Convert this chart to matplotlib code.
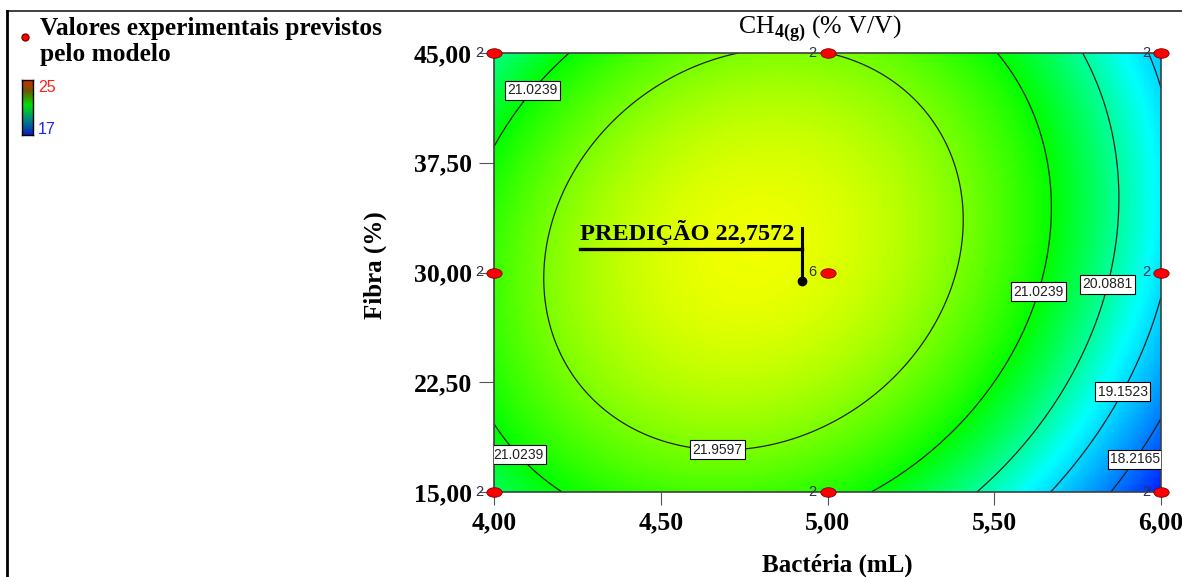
import numpy as np
import matplotlib
matplotlib.use("Agg")
import matplotlib.pyplot as plt
from matplotlib.colors import LinearSegmentedColormap
from matplotlib.path import Path
from matplotlib.transforms import Affine2D
from matplotlib.lines import Line2D

plt.rcParams['mathtext.fontset'] = 'custom'
plt.rcParams['mathtext.rm'] = 'Liberation Serif'
plt.rcParams['mathtext.bf'] = 'Liberation Serif:bold'

# quadratic model in coded units: A=(Bacteria-5)/1, B=(Fibra-30)/15
# terms: intercept, A, B, A^2, B^2, AB
model_coef = [22.7387, -1.1049, 0.3442, -2.3759, -1.1221, 0.4741]

bact_ticks = [4.00, 4.50, 5.00, 5.50, 6.00]
fibra_ticks = [15.00, 22.50, 30.00, 37.50, 45.00]
design_bact = [4, 4, 4, 5, 5, 6, 6, 6, 5]
design_fibra = [15, 30, 45, 15, 45, 15, 30, 45, 30]
design_reps = [2, 2, 2, 2, 2, 2, 2, 2, 6]
levels = [18.2165, 19.1523, 20.0881, 21.0239, 21.9597]
pred_bact, pred_fibra, pred_value = 4.925, 29.45, 22.7572
color_min, color_max = 17, 25

fig = plt.figure(figsize=(11.82, 5.77), dpi=100)
ax = fig.add_axes([494/1182, 1-492/577, 667/1182, 439/577])

xs = np.linspace(4, 6, 241)
ys = np.linspace(15, 45, 241)
XX, YY = np.meshgrid(xs, ys)
AA = XX - 5
BB = (YY - 30) / 15
c = model_coef
ZZ = c[0] + c[1]*AA + c[2]*BB + c[3]*AA**2 + c[4]*BB**2 + c[5]*AA*BB

cmap = LinearSegmentedColormap.from_list('de', [(0, '#0000ff'), (0.31, '#00ffff'), (0.5, '#00ff00'), (0.75, '#ffff00'), (1, '#ff0000')])
ax.imshow(ZZ, extent=[4, 6, 15, 45], origin='lower', aspect='auto', cmap=cmap,
          vmin=color_min, vmax=color_max, interpolation='nearest')
cs = ax.contour(XX, YY, ZZ, levels=levels, colors='#202020', linewidths=0.9)
manual = [(4.111, 42.56), (4.084, 17.80), (4.671, 18.49), (5.626, 28.74), (5.86, 29.08), (5.875, 21.97), (5.908, 17.46)]
lbls = ax.clabel(cs, inline=False, fmt='%.4f', manual=manual, fontsize=10)
for t in lbls:
    t.set_rotation(0)
    t.set_family('Liberation Sans')
    t.set_bbox(dict(facecolor='white', edgecolor='black', linewidth=0.8, pad=1.8))
    t.set_zorder(5)

uc = Path.unit_circle()
ell = Path(Affine2D().scale(1.6, 1.0).transform(uc.vertices), uc.codes)
ax.plot(design_bact, design_fibra, linestyle='none', marker=ell, markersize=11,
        markerfacecolor='#ff0000', markeredgecolor='#800000', markeredgewidth=0.6, clip_on=False, zorder=6)
for bx, fy, r in zip(design_bact, design_fibra, design_reps):
    ax.annotate(str(r), (bx, fy), xytext=(-8, 0), textcoords='offset points', ha='right', va='center',
                fontsize=10.5, family='Liberation Sans', color='#303048', annotation_clip=False, zorder=6)

ax.plot([pred_bact], [pred_fibra], 'o', color='black', markersize=6, zorder=7)
ax.plot([pred_bact, pred_bact], [pred_fibra, pred_fibra + 3.6], color='black', lw=2.2, zorder=7)
ax.plot([4.258, pred_bact], [pred_fibra + 2.17, pred_fibra + 2.17], color='black', lw=2.4, zorder=7)
ax.text(4.258, pred_fibra + 2.4, 'PREDIÇÃO ' + f'{pred_value:.4f}'.replace('.', ','), family='Liberation Serif',
        fontweight='bold', fontsize=17.5, ha='left', va='bottom', zorder=7)

ax.set_xlim(4, 6)
ax.set_ylim(15, 45)
ax.set_xticks(bact_ticks)
ax.set_xticklabels([f'{v:.2f}'.replace('.', ',') for v in bact_ticks])
ax.set_yticks(fibra_ticks)
ax.set_yticklabels([f'{v:.2f}'.replace('.', ',') for v in fibra_ticks])
for lab in ax.get_xticklabels() + ax.get_yticklabels():
    lab.set_family('Liberation Serif'); lab.set_fontweight('bold'); lab.set_fontsize(18.5)
ax.tick_params(axis='x', length=9, color='#555555', pad=5)
ax.tick_params(axis='y', length=11, color='#555555', pad=5)
for s in ax.spines.values():
    s.set_color('#404040'); s.set_linewidth(1.2)
ax.set_xlabel('Bactéria (mL)', family='Liberation Serif', fontweight='bold', fontsize=18)
ax.set_ylabel('Fibra (%)', family='Liberation Serif', fontweight='bold', fontsize=18)
ax.xaxis.set_label_coords((837-494)/667, -(565-492)/439)
ax.yaxis.set_label_coords(-(494-375)/667, (492-265)/439)
ax.xaxis.label.set_va('center')
ax.yaxis.label.set_va('center')
fig.text(820/1182, 1-29/577, r'CH$_{\mathbf{4(g)}}$ (% V/V)', family='Liberation Serif', fontsize=18.5, ha='center', va='center')

# legend
fig.text(40/1182, 1-28/577, 'Valores experimentais previstos', family='Liberation Serif', fontweight='bold', fontsize=18.3, ha='left', va='center')
fig.text(40/1182, 1-54/577, 'pelo modelo', family='Liberation Serif', fontweight='bold', fontsize=18.3, ha='left', va='center')
fig.add_artist(Line2D([25/1182], [1-37/577], marker='o', markersize=5, markerfacecolor='#ff0000', markeredgecolor='#800000', linestyle='none'))
cax = fig.add_axes([22/1182, 1-135/577, 11/1182, 55/577])
leg_cmap = LinearSegmentedColormap.from_list('leg', [(0, '#0a1fbf'), (0.3, '#00907a'), (0.55, '#00e000'), (0.8, '#6b5a00'), (1, '#d42a00')])
cax.imshow(np.linspace(0, 1, 100)[:, None], origin='lower', aspect='auto', cmap=leg_cmap, extent=[0, 1, 0, 1])
cax.set_xticks([]); cax.set_yticks([])
for s in cax.spines.values():
    s.set_color('black'); s.set_linewidth(1)
fig.text(38/1182, 1-88/577, str(color_max), color='#ff2020', family='Liberation Sans', fontsize=11.5, ha='left', va='center')
fig.text(38/1182, 1-129/577, str(color_min), color='#2020ff', family='Liberation Sans', fontsize=11.5, ha='left', va='center')

# frame
fig.add_artist(Line2D([7/1182, 1], [1-11/577, 1-11/577], color='#202020', lw=1.2))
fig.add_artist(Line2D([7/1182, 7/1182], [0, 1-11/577], color='black', lw=2))

fig.savefig('out.png', dpi=100)
